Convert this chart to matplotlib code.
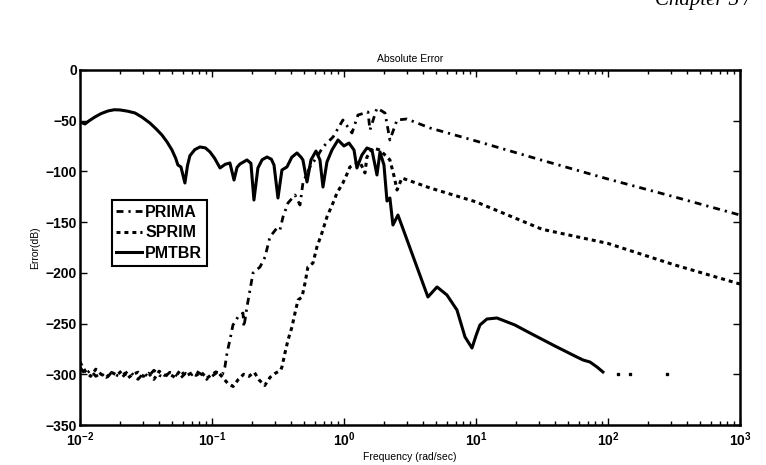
import numpy as np
import matplotlib.pyplot as plt
from matplotlib.ticker import LogLocator, FixedLocator, NullFormatter

plt.rcParams['font.family'] = ['Liberation Sans', 'DejaVu Sans']
plt.rcParams['mathtext.default'] = 'regular'

# PMTBR error curve (log10 frequency, dB)
pmtbr_lf = [-2.000, -1.962, -1.930, -1.886, -1.840, -1.788, -1.740, -1.697, -1.640, -1.583,
            -1.530, -1.470, -1.420, -1.379, -1.340, -1.303, -1.275, -1.258,
            -1.235, -1.205, -1.185, -1.167, -1.130, -1.091, -1.050, -1.015, -0.980, -0.939,
            -0.900, -0.864, -0.833, -0.810, -0.788, -0.735, -0.705, -0.682, -0.652, -0.620,
            -0.583, -0.550, -0.530, -0.500, -0.470, -0.432, -0.395, -0.356, -0.325, -0.311,
            -0.280, -0.250, -0.212, -0.182, -0.159, -0.129, -0.091, -0.045, 0.000, 0.038,
            0.076, 0.098, 0.136, 0.174, 0.212, 0.250, 0.273, 0.303, 0.326, 0.348,
            0.371, 0.409, 0.636, 0.705, 0.780, 0.856, 0.917, 0.970, 1.000, 1.030, 1.083,
            1.159, 1.295, 1.409, 1.598, 1.765, 1.811, 1.864, 1.917, 1.962]
pmtbr_db = [-51.3, -53.2, -50.0, -46.3, -43.0, -40.4, -39.2, -39.4, -40.6, -42.4,
            -46.5, -52.3, -58.5, -64.1, -71.0, -78.9, -87.0, -93.7,
            -95.6, -111.4, -94.0, -84.5, -78.5, -75.9, -76.8, -80.8, -87.0, -96.6,
            -93.0, -91.7, -108.5, -96.0, -92.7, -88.7, -92.0, -128.2, -96.6, -88.5,
            -85.8, -88.0, -93.7, -126.2, -98.6, -95.6, -86.0, -81.8, -86.0, -88.7,
            -110.4, -88.7, -79.9, -88.7, -115.4, -90.7, -78.9, -69.0, -74.9, -72.0,
            -78.9, -96.6, -83.8, -76.9, -78.9, -103.5, -80.8, -93.7, -129.2, -126.2,
            -152.8, -143.0, -223.8, -213.9, -221.8, -236.6, -263.2, -274.1, -262.0, -251.4, -245.5,
            -244.5, -251.4, -259.3, -272.1, -283.0, -285.9, -287.9, -292.8, -297.7]
# isolated PMTBR points beyond 100 rad/s
pmtbr_tail_lf = [2.076, 2.167, 2.447]
pmtbr_tail_db = [-299.7, -299.7, -299.7]

# PRIMA error curve
prima_lf = [-2.00, -1.96, -1.92, -1.88, -1.84, -1.80, -1.76, -1.72, -1.68, -1.64,
            -1.60, -1.56, -1.52, -1.48, -1.44, -1.40, -1.36, -1.32, -1.28, -1.24,
            -1.20, -1.16, -1.12, -1.08, -1.04, -1.00, -0.96, -0.92,
            -0.902, -0.886, -0.864, -0.841, -0.803, -0.765, -0.758, -0.735, -0.712, -0.689,
            -0.636, -0.598, -0.561, -0.508, -0.485, -0.462, -0.424, -0.371, -0.333, -0.311,
            -0.258, -0.205, -0.159, -0.083, -0.008, 0.061, 0.106, 0.182, 0.197, 0.250,
            0.311, 0.348, 0.402, 0.477, 0.652, 1.000, 1.500, 2.000, 2.500, 3.000]
prima_db = [-293, -300, -296, -302, -299, -304, -298, -301, -303, -297,
            -300, -305, -299, -302, -296, -301, -303, -298, -300, -304,
            -299, -301, -297, -300, -305, -302, -298, -300,
            -292.8, -279.0, -266.2, -251.4, -243.5, -239.6, -253.4, -233.7, -216.9, -200.1,
            -194.2, -184.4, -164.6, -155.8, -157.7, -144.9, -131.1, -123.2, -133.1, -111.4,
            -95.6, -85.8, -75.9, -66.1, -49.3, -62.1, -44.4, -41.4, -59.2, -37.5,
            -42.4, -69.0, -49.3, -48.3, -57.2, -70.0, -89.0, -107.5, -125.0, -143.0]

# SPRIM error curve
sprim_lf = [-2.00, -1.96, -1.92, -1.88, -1.84, -1.80, -1.76, -1.72, -1.68, -1.64,
            -1.60, -1.56, -1.52, -1.48, -1.44, -1.40, -1.36, -1.32, -1.28, -1.24,
            -1.20, -1.16, -1.12, -1.08, -1.04, -1.00, -0.96, -0.92, -0.88, -0.84,
            -0.80, -0.76, -0.72, -0.68, -0.64, -0.60, -0.56, -0.52, -0.48,
            -0.470, -0.447, -0.424, -0.394, -0.371, -0.348, -0.318, -0.295, -0.273, -0.235,
            -0.205, -0.167, -0.129, -0.083, -0.053, -0.008, 0.030, 0.045, 0.121, 0.159,
            0.174, 0.220, 0.273, 0.348, 0.380, 0.402, 0.439, 0.652, 1.000, 1.500,
            2.000, 2.500, 3.000]
sprim_db = [-288, -297, -302, -295, -300, -303, -298, -301, -296, -304,
            -300, -298, -302, -299, -305, -297, -301, -300, -303, -296,
            -302, -299, -301, -298, -304, -300, -297, -303, -309, -312,
            -305, -300, -302, -298, -306, -311, -303, -299, -296,
            -292.8, -279.0, -266.2, -253.4, -239.6, -226.8, -223.8, -210.0, -194.2, -190.3,
            -174.5, -160.7, -144.9, -131.1, -121.3, -111.4, -100.6, -95.6, -90.7, -101.5,
            -85.8, -76.9, -78.9, -88.7, -105.0, -118.3, -106.5, -116.3, -130.0, -157.0,
            -171.0, -192.0, -211.0]

xtick_labels = ['$10^{-2}$', '$10^{-1}$', '$10^{0}$', '$10^{1}$', '$10^{2}$', '$10^{3}$']

fig = plt.figure(figsize=(7.66, 4.65), dpi=100)
ax = fig.add_axes([0.1044, 0.086, 0.8616, 0.7635])

ax.plot(10 ** np.array(prima_lf), prima_db, color='black', lw=2.0,
        dashes=(2.5, 1.8, 0.8, 1.8), label='PRIMA')
ax.plot(10 ** np.array(sprim_lf), sprim_db, color='black', lw=2.2,
        dashes=(1.3, 1.3), label='SPRIM')
ax.plot(10 ** np.array(pmtbr_lf), pmtbr_db, color='black', lw=2.2, label='PMTBR')
ax.plot(10 ** np.array(pmtbr_tail_lf), pmtbr_tail_db, ls='none', marker='s',
        ms=1.8, color='black')

ax.set_xscale('log')
ax.set_xlim(1e-2, 1e3)
ax.set_ylim(-350, 0)
ax.xaxis.set_major_locator(FixedLocator([1e-2, 1e-1, 1e0, 1e1, 1e2, 1e3]))
ax.set_xticklabels(xtick_labels)
ax.xaxis.set_minor_locator(LogLocator(base=10, subs=np.arange(2, 10)))
ax.xaxis.set_minor_formatter(NullFormatter())
ax.set_yticks(np.arange(-350, 1, 50))

ax.tick_params(which='both', direction='in', top=True, right=True, width=1)
ax.tick_params(which='major', length=5, labelsize=10, pad=2)
ax.tick_params(axis='x', which='major', pad=4)
ax.tick_params(which='minor', length=3)
for lab in ax.get_xticklabels() + ax.get_yticklabels():
    lab.set_fontweight('bold')
for sp in ax.spines.values():
    sp.set_linewidth(1.8)

ax.set_title('Absolute Error', fontsize=7.5, pad=6)
ax.set_xlabel('Frequency (rad/sec)', fontsize=7.5, labelpad=2)
ax.set_ylabel('Error(dB)', fontsize=7.5, labelpad=4)

leg = ax.legend(loc='upper left', bbox_to_anchor=(0.048, 0.634), fancybox=False,
                edgecolor='black', framealpha=1, handlelength=1.6, handletextpad=0.2,
                borderpad=0.3, labelspacing=0.35, borderaxespad=0,
                prop={'weight': 'bold', 'size': 11.5})
leg.get_frame().set_linewidth(1.5)

fig.text(0.855, 1 - 5 / 465, 'Chapter 3 /', family='Liberation Serif', style='italic',
         fontsize=15, va='baseline')

fig.savefig('out.png', dpi=100, facecolor='white')
